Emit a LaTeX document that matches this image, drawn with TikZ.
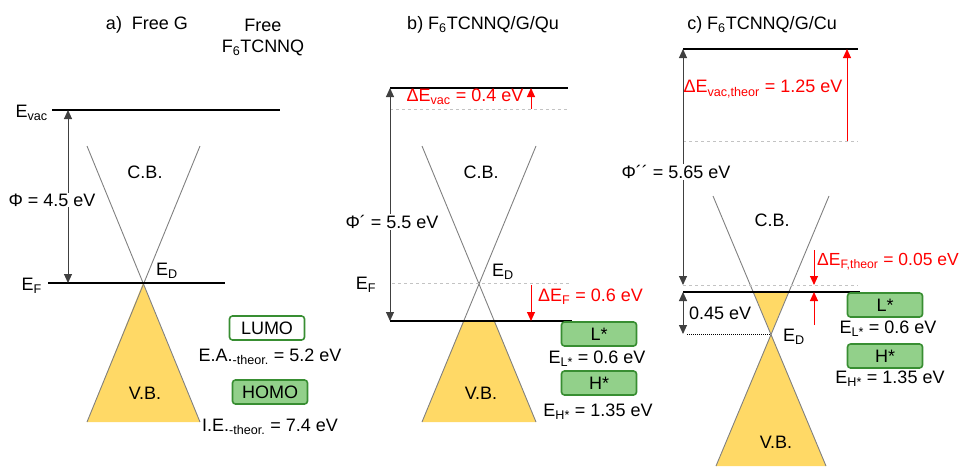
\documentclass[tikz,border=0pt]{standalone}
\usepackage{fontspec}
\setmainfont{Liberation Sans}
\usetikzlibrary{positioning,arrows.meta}
\definecolor{bandyellow}{RGB}{255,217,102}
\definecolor{boxgreen}{RGB}{146,208,138}
\definecolor{boxedge}{RGB}{56,142,50}
\definecolor{conegrey}{RGB}{128,128,128}
\definecolor{refgrey}{RGB}{195,195,195}
\tikzset{
  lbl/.style={font=\fontsize{18}{21}\selectfont, inner sep=1pt},
  redlbl/.style={lbl, text=red},
  level/.style={line width=1.5pt},
  refline/.style={refgrey, dashed, line width=1pt},
  cone/.style={conegrey, line width=0.9pt},
  energy/.style={{Triangle[width=8pt,length=9pt]}-{Triangle[width=8pt,length=9pt]}, line width=1pt, black!75},
  shiftup/.style={-{Triangle[width=8pt,length=9pt]}, line width=1pt, red},
  orbital/.style={lbl, draw=boxedge, line width=1.6pt, rounded corners=3pt,
    minimum width=75pt, minimum height=24pt},
  filled/.style={orbital, fill=boxgreen},
}

\begin{document}
\begin{tikzpicture}[x=1pt, y=-1pt]
  \useasboundingbox (0,0) rectangle (960,466);

  % a) free graphene
  \node[lbl] (a-title) at (147,25) {a)\ \ Free G};
  \node[lbl] (a-free) at (263,25) {Free};
  \node[lbl] (a-mol) at (263,48) {F\textsubscript{6}TCNNQ};
  \coordinate (a-vacL) at (52,110);
  \coordinate (a-vacR) at (280,110);
  \coordinate (a-efL) at (48,283);
  \coordinate (a-efR) at (225,283);
  \coordinate (a-dirac) at (143,283);
  \fill[bandyellow] (a-dirac) -- (87,422) -- (200,422) -- cycle;
  \draw[cone] (87,146) -- (200,422);
  \draw[cone] (200,146) -- (87,422);
  \draw[level] (a-vacL) -- (a-vacR);
  \draw[level] (a-efL) -- (a-efR);
  \coordinate (a-top) at (68,110);
  \coordinate (a-bot) at (68,283);
  \draw[energy] (a-top) -- (a-bot);
  \node[lbl, fill=white] (a-phi) at (52,200) {Φ = 4.5 eV};
  \node[lbl, anchor=east] (a-evac) at (49,113) {E\textsubscript{vac}};
  \node[lbl, anchor=east] (a-ef) at (43,286) {E\textsubscript{F}};
  \node[lbl, anchor=west] (a-ed) at (155,271) {E\textsubscript{D}};
  \node[lbl] (a-cb) at (145,172) {C.B.};
  \node[lbl] (a-vb) at (145,393) {V.B.};
  \node[orbital, fill=white] (lumo) at (267,328) {LUMO};
  \node[lbl] (a-ea) at (270,357) {E.A.\textsubscript{-theor.} = 5.2 eV};
  \node[filled] (homo) at (270,392) {HOMO};
  \node[lbl] (a-ie) at (270,427) {I.E.\textsubscript{-theor.} = 7.4 eV};

  % b) on quartz
  \node[lbl] (b-title) at (483,25) {b) F\textsubscript{6}TCNNQ/G/Qu};
  \coordinate (b-vacL) at (390,88);
  \coordinate (b-vacR) at (568,88);
  \coordinate (b-oldL) at (390,109);
  \coordinate (b-oldR) at (568,109);
  \coordinate (b-dirac) at (479,283);
  \coordinate (b-efL) at (390,321);
  \coordinate (b-efR) at (572,321);
  \fill[bandyellow] (463.4,321) -- (494.6,321) -- (536,422) -- (422,422) -- cycle;
  \draw[cone] (422,146) -- (536,422);
  \draw[cone] (536,146) -- (422,422);
  \draw[refline] (b-oldL) -- (b-oldR);
  \draw[refline] (392,283) -- (570,283);
  \draw[level] (b-vacL) -- (b-vacR);
  \draw[level] (b-efL) -- (b-efR);
  \draw[energy] (b-vacL) -- (b-efL);
  \node[lbl, fill=white] (b-phi) at (392,222) {Φ´ = 5.5 eV};
  \coordinate (b-dvac0) at (531,109);
  \coordinate (b-dvac1) at (531,88);
  \draw[shiftup] (b-dvac0) -- (b-dvac1);
  \node[redlbl] (b-dvac) at (465,97) {ΔE\textsubscript{vac} = 0.4 eV};
  \coordinate (b-def0) at (531,285);
  \coordinate (b-def1) at (531,321);
  \draw[shiftup] (b-def0) -- (b-def1);
  \node[redlbl, anchor=west] (b-def) at (537,297) {ΔE\textsubscript{F} = 0.6 eV};
  \node[lbl] (b-ef) at (366,285) {E\textsubscript{F}};
  \node[lbl, anchor=west] (b-ed) at (491,272) {E\textsubscript{D}};
  \node[lbl] (b-cb) at (481,172) {C.B.};
  \node[lbl] (b-vb) at (481,393) {V.B.};
  \node[filled] (b-lstar) at (599,334) {L*};
  \node[lbl] (b-el) at (597,359) {E\textsubscript{L*} = 0.6 eV};
  \node[filled] (b-hstar) at (599,383) {H*};
  \node[lbl] (b-eh) at (598,412) {E\textsubscript{H*} = 1.35 eV};

  % c) on copper
  \node[lbl] (c-title) at (762,25) {c) F\textsubscript{6}TCNNQ/G/Cu};
  \coordinate (c-vacL) at (683,49);
  \coordinate (c-vacR) at (858,49);
  \coordinate (c-oldL) at (683,141);
  \coordinate (c-oldR) at (858,141);
  \coordinate (c-refL) at (683,285);
  \coordinate (c-refR) at (858,285);
  \coordinate (c-efL) at (683,292);
  \coordinate (c-efR) at (860,292);
  \coordinate (c-dirac) at (771,334);
  \fill[bandyellow] (753.3,292) -- (788.7,292) -- (c-dirac) -- cycle;
  \fill[bandyellow] (c-dirac) -- (826,466) -- (716,466) -- cycle;
  \draw[cone] (713,196) -- (826,466);
  \draw[cone] (829,196) -- (716,466);
  \draw[refline] (c-oldL) -- (c-oldR);
  \draw[refline] (c-refL) -- (c-refR);
  \draw[level] (c-vacL) -- (c-vacR);
  \draw[level] (c-efL) -- (c-efR);
  \draw[energy] (c-vacL) -- (c-refL);
  \node[lbl, fill=white] (c-phi) at (676,172) {Φ´´ = 5.65 eV};
  \coordinate (c-dvac0) at (847,141);
  \coordinate (c-dvac1) at (847,49);
  \draw[shiftup] (c-dvac0) -- (c-dvac1);
  \node[redlbl] (c-dvac) at (763,89) {ΔE\textsubscript{vac,theor} = 1.25 eV};
  \coordinate (c-dfa) at (814,250);
  \coordinate (c-dfb) at (814,325);
  \draw[shiftup] (c-dfa) -- (c-refR -| c-dfa);
  \draw[shiftup] (c-dfb) -- (c-efR -| c-dfb);
  \node[redlbl, anchor=east, inner sep=0pt, font=\fontsize{17.5}{20}\selectfont] (c-def) at (959,262) {ΔE\textsubscript{F,theor} = 0.05 eV};
  \coordinate (c-gapB) at (683,334);
  \draw[densely dotted, line width=1pt] (687,334) -- (c-dirac);
  \draw[energy] (c-efL) -- (c-gapB);
  \node[lbl, anchor=west] (c-gap) at (688,313) {0.45 eV};
  \node[lbl, anchor=west] (c-ed) at (782,337) {E\textsubscript{D}};
  \node[lbl] (c-cb) at (772,220) {C.B.};
  \node[lbl] (c-vb) at (776,442) {V.B.};
  \node[filled] (c-lstar) at (885,305) {L*};
  \node[lbl] (c-el) at (888,329) {E\textsubscript{L*} = 0.6 eV};
  \node[filled] (c-hstar) at (885,356) {H*};
  \node[lbl] (c-eh) at (890,379) {E\textsubscript{H*} = 1.35 eV};
\end{tikzpicture}
\end{document}
